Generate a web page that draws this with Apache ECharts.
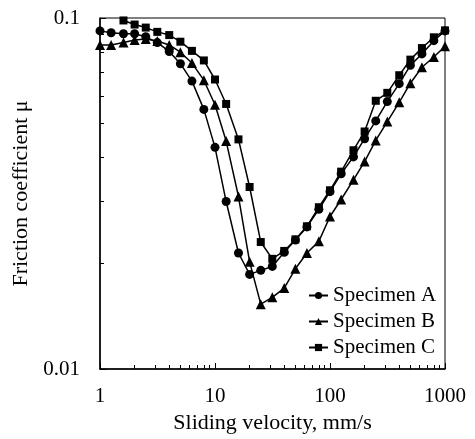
<html>
<head>
  <meta charset="utf-8">
  <style>
    html, body { margin: 0; padding: 0; background: #fff; }
    #container { width: 475px; height: 439px; }
  </style>
</head>
<body>
<div id="container"></div>
<script type="text/javascript" src="https://cdn.jsdelivr.net/npm/echarts@6/dist/echarts.min.js"></script>
<script type="text/javascript">
  // sliding velocity, mm/s
  const velocity = [1, 1.25, 1.6, 2, 2.5, 3.15, 4, 5, 6.3, 8,
                    10, 12.5, 16, 20, 25, 31.5, 40, 50, 63, 80,
                    100, 125, 160, 200, 250, 315, 400, 500, 630, 800, 1000];

  const specimenA = [0.0919, 0.0908, 0.0902, 0.0902, 0.0884, 0.0851, 0.0803, 0.0741, 0.0661, 0.0549,
                     0.0428, 0.0300, 0.0214, 0.0186, 0.0191, 0.0196, 0.0215, 0.0233, 0.0254, 0.0285,
                     0.0320, 0.0360, 0.0402, 0.0453, 0.0509, 0.0578, 0.0650, 0.0733, 0.0790, 0.0862, 0.0919];
  const specimenB = [0.0838, 0.0838, 0.0852, 0.0866, 0.0871, 0.0860, 0.0838, 0.0799, 0.0744, 0.0665,
                     0.0566, 0.0446, 0.0310, 0.0202, 0.0153, 0.0160, 0.0170, 0.0193, 0.0214, 0.0231,
                     0.0272, 0.0304, 0.0346, 0.0390, 0.0448, 0.0507, 0.0575, 0.0652, 0.0724, 0.0774, 0.0831];
  const specimenC = [null, null, 0.0984, 0.0958, 0.0939, 0.0913, 0.0894, 0.0856, 0.0806, 0.0757,
                     0.0668, 0.0569, 0.0451, 0.0330, 0.0230, 0.0206, 0.0217, 0.0234, 0.0255, 0.0289,
                     0.0323, 0.0365, 0.0420, 0.0475, 0.0581, 0.0612, 0.0687, 0.0761, 0.0821, 0.0881, 0.0922];

  // minor tick values (log axes)
  const xMinor = [2, 3, 4, 5, 6, 7, 8, 9, 20, 30, 40, 50, 60, 70, 80, 90, 200, 300, 400, 500, 600, 700, 800, 900];
  const yMinor = [0.02, 0.03, 0.04, 0.05, 0.06, 0.07, 0.08, 0.09];

  const font = 'Liberation Serif, Times New Roman, serif';

  function pairs(ys) {
    return velocity.map((x, i) => [x, ys[i]]).filter(p => p[1] != null);
  }

  var myChart = echarts.init(document.getElementById('container'), null, { renderer: 'canvas' });

  var option = {
    animation: false,
    backgroundColor: '#fff',
    grid: {
      left: 100, right: 30, top: 18, bottom: 65,
      show: true, borderColor: '#000', borderWidth: 1
    },
    legend: {
      orient: 'vertical',
      left: 308, top: 285, padding: 0,
      itemWidth: 19, itemHeight: 9, itemGap: 5,
      textStyle: { fontFamily: font, fontSize: 21, color: '#000' },
      data: ['Specimen A', 'Specimen B', 'Specimen C']
    },
    xAxis: [
      {
        type: 'log', logBase: 10, min: 1, max: 1000,
        name: 'Sliding velocity, mm/s', nameLocation: 'middle', nameGap: 43,
        nameTextStyle: { fontFamily: font, fontSize: 22, color: '#000' },
        axisLine: { lineStyle: { color: '#000', width: 1.5 } },
        axisTick: { inside: true, length: 6, lineStyle: { color: '#000' } },
        axisLabel: { fontFamily: font, fontSize: 21, color: '#000', margin: 17,
                     formatter: v => String(+v.toPrecision(3)) },
        splitLine: { show: false }
      },
      {
        type: 'value', min: 0, max: 3, position: 'bottom',
        axisLine: { show: false },
        axisTick: { inside: true, length: 4, lineStyle: { color: '#000' },
                    customValues: xMinor.map(v => Math.log10(v)) },
        axisLabel: { show: false },
        splitLine: { show: false }
      }
    ],
    yAxis: [
      {
        type: 'log', logBase: 10, min: 0.01, max: 0.1,
        name: 'Friction coefficient μ', nameLocation: 'middle', nameGap: 68,
        nameTextStyle: { fontFamily: font, fontSize: 22, color: '#000' },
        axisLine: { lineStyle: { color: '#000', width: 1.5 } },
        axisTick: { inside: true, length: 6, lineStyle: { color: '#000' } },
        axisLabel: { fontFamily: font, fontSize: 21, color: '#000', margin: 20,
                     formatter: v => String(+v.toPrecision(3)) },
        splitLine: { show: false }
      },
      {
        type: 'value', min: -2, max: -1, position: 'left',
        axisLine: { show: false },
        axisTick: { inside: true, length: 4, lineStyle: { color: '#000' },
                    customValues: yMinor.map(v => Math.log10(v)) },
        axisLabel: { show: false },
        splitLine: { show: false }
      }
    ],
    series: [
      {
        name: 'Specimen A', type: 'line', data: pairs(specimenA),
        symbol: 'circle', symbolSize: 9,
        itemStyle: { color: '#000' }, lineStyle: { color: '#000', width: 1.5 }
      },
      {
        name: 'Specimen B', type: 'line', data: pairs(specimenB),
        symbol: 'triangle', symbolSize: 10,
        itemStyle: { color: '#000' }, lineStyle: { color: '#000', width: 1.5 }
      },
      {
        name: 'Specimen C', type: 'line', data: pairs(specimenC),
        symbol: 'rect', symbolSize: 8,
        itemStyle: { color: '#000' }, lineStyle: { color: '#000', width: 1.5 }
      }
    ]
  };

  myChart.setOption(option);
</script>
</body>
</html>
